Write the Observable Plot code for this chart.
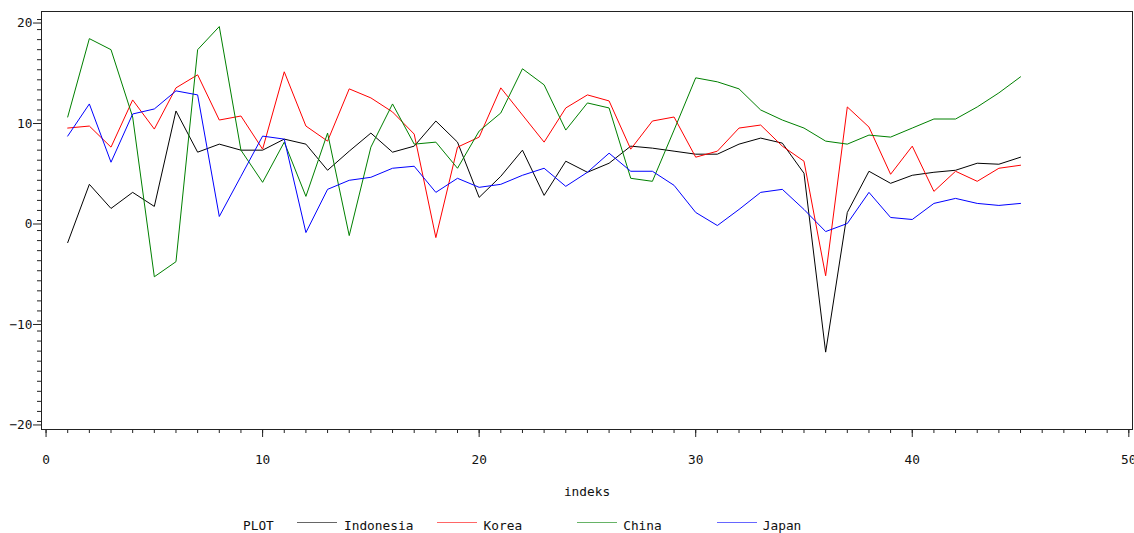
<!DOCTYPE html>
<html>
<head>
<meta charset="utf-8">
<script src="https://cdn.jsdelivr.net/npm/d3@7"></script>
<script src="https://cdn.jsdelivr.net/npm/@observablehq/plot@0.6"></script>
<style>
  html, body { margin: 0; padding: 0; background: #fff; }
  #wrap { width: 1134px; }
  #legend { position: relative; width: 1134px; height: 23px; font-family: "DejaVu Sans Mono", monospace; font-size: 12.8px; color: #111; overflow: visible; }
  #legend .t { position: absolute; top: 9px; line-height: 13px; white-space: nowrap; }
  #legend .s { position: absolute; top: 12px; width: 40px; height: 0; border-top: 1.5px solid; }
</style>
</head>
<body>
<div id="wrap"></div>
<script>
const indeks = [1,2,3,4,5,6,7,8,9,10,11,12,13,14,15,16,17,18,19,20,21,22,23,24,25,26,27,28,29,30,31,32,33,34,35,36,37,38,39,40,41,42,43,44,45];
const indonesia = [-2.2,3.6,1.2,2.8,1.4,10.9,6.8,7.6,7.0,7.0,8.1,7.6,5.0,6.9,8.7,6.8,7.4,9.9,7.8,2.3,4.4,7.0,2.5,5.9,4.8,5.7,7.4,7.2,6.9,6.6,6.6,7.6,8.2,7.7,4.7,-13.1,0.8,4.9,3.7,4.5,4.8,5.0,5.7,5.6,6.3];
const korea = [9.2,9.4,7.3,12.0,9.1,13.2,14.5,10.0,10.4,7.1,14.8,9.4,7.9,13.1,12.2,10.8,8.6,-1.7,7.3,8.3,13.2,10.5,7.8,11.2,12.5,11.9,7.1,9.9,10.3,6.3,6.9,9.2,9.5,7.4,5.9,-5.5,11.3,9.3,4.6,7.4,2.9,4.9,3.9,5.2,5.5];
const china = [10.3,18.1,17.0,10.3,-5.6,-4.1,17.0,19.3,7.0,3.8,7.8,2.4,8.7,-1.5,7.3,11.6,7.6,7.8,5.2,8.9,10.7,15.1,13.5,9.0,11.7,11.2,4.2,3.9,9.0,14.2,13.8,13.1,11.0,10.0,9.2,7.9,7.6,8.5,8.3,9.2,10.1,10.1,11.3,12.7,14.3];
const japan = [8.4,11.6,5.8,10.6,11.1,12.9,12.5,0.4,4.4,8.4,8.1,-1.2,3.1,4.0,4.3,5.2,5.4,2.8,4.2,3.3,3.6,4.5,5.2,3.4,4.8,6.7,4.9,4.9,3.5,0.8,-0.5,1.1,2.8,3.1,1.1,-1.1,-0.3,2.8,0.3,0.1,1.7,2.2,1.7,1.5,1.7];
const seriesNames = ["Indonesia", "Korea", "China", "Japan"];
const seriesColors = ["#000000", "#ff0000", "#008000", "#0000ff"];
const xTicks = [0, 10, 20, 30, 40, 50];
const yTicks = [-20, -10, 0, 10, 20];
const xMinor = d3.range(0, 51);
const yMinor = d3.range(-20, 21);
const xLabel = "indeks";
const legendTitle = "PLOT";

const seriesValues = [indonesia, korea, china, japan];
const rows = [];
seriesNames.forEach((name, k) => {
  indeks.forEach((x, i) => rows.push({indeks: x, value: seriesValues[k][i], series: name}));
});

const chart = Plot.plot({
  width: 1134,
  height: 510,
  marginLeft: 41,
  marginRight: 2,
  marginTop: 11,
  marginBottom: 81,
  style: {fontFamily: "DejaVu Sans Mono, monospace", fontSize: "12.8px", background: "#fff", color: "#111"},
  x: {domain: [-0.21, 50.17]},
  y: {domain: [-20.8, 20.8]},
  color: {domain: seriesNames, range: seriesColors},
  marks: [
    Plot.frame({stroke: "#222"}),
    Plot.axisY({ticks: yMinor, tickSize: 4, tickFormat: () => "", label: null, stroke: "#222"}),
    Plot.axisY({ticks: yTicks, tickSize: 8, tickPadding: 1, dy: 3.5, label: null, stroke: "#222"}),
    Plot.axisX({ticks: xMinor, tickSize: 4, tickFormat: () => "", label: null, stroke: "#222"}),
    Plot.axisX({ticks: xTicks, tickSize: 8, tickPadding: 17, label: null, stroke: "#222"}),
    Plot.text([xLabel], {frameAnchor: "bottom", dy: 66, text: d => d, fill: "#111"}),
    Plot.line(rows, {x: "indeks", y: "value", z: "series", stroke: "series", strokeWidth: 1})
  ]
});
document.getElementById("wrap").appendChild(chart);

const legend = document.createElement("div");
legend.id = "legend";
const title = document.createElement("span");
title.className = "t";
title.style.left = "243px";
title.textContent = legendTitle;
legend.appendChild(title);
seriesNames.forEach((name, k) => {
  const sw = document.createElement("span");
  sw.className = "s";
  sw.style.left = (297 + 140 * k) + "px";
  sw.style.borderTopColor = seriesColors[k];
  sw.style.opacity = 0.6;
  legend.appendChild(sw);
  const t = document.createElement("span");
  t.className = "t";
  t.style.left = (344 + 139.6 * k) + "px";
  t.textContent = name;
  legend.appendChild(t);
});
document.getElementById("wrap").appendChild(legend);
</script>
</body>
</html>
